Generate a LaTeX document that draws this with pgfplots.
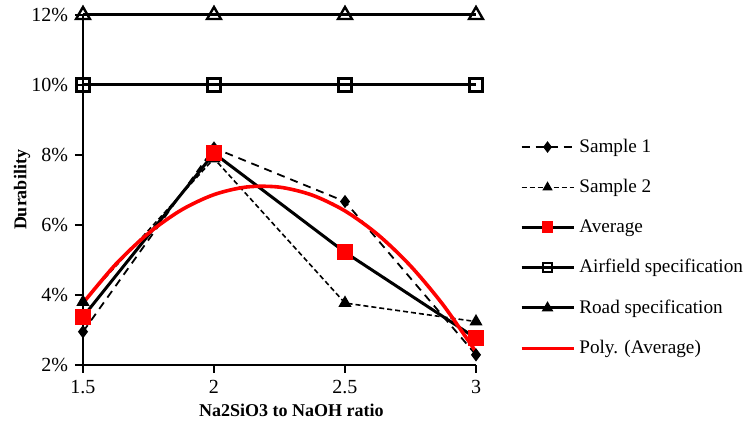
\documentclass[border=0pt]{standalone}
\usepackage{pgfplots}
\pgfplotsset{compat=1.18}
\usepackage{fontspec}
\setmainfont{Liberation Serif}

\begin{document}
\begin{tikzpicture}
\begin{axis}[
    name=ax,
    at={(0,0)}, anchor=south west,
    scale only axis,
    width=196.5pt, height=175pt,
    xmin=1.5, xmax=3,
    ymin=2, ymax=12,
    xtick={1.5,2,2.5,3},
    xticklabels={1.5,2,2.5,3},
    ytick={2,4,6,8,10,12},
    yticklabel={\pgfmathprintnumber{\tick}\%},
    /pgf/number format/assume math mode=true,
    axis x line*=bottom, axis y line*=left,
    axis line style={line width=1pt},
    tick style={line width=1pt, black},
    tick align=outside,
    major tick length=4pt,
    clip=false,
    ticklabel style={font=\fontsize{10}{12}\selectfont},
    xlabel={Na2SiO3 to NaOH ratio},
    ylabel={Durability},
    xlabel style={font=\fontsize{9}{11}\selectfont\bfseries, at={(axis description cs:0.53,-0.13)}, anchor=center},
    ylabel style={font=\fontsize{9}{11}\selectfont\bfseries, at={(axis description cs:-0.155,0.5)}, anchor=center},
    legend style={draw=none, fill=none, at={(axis description cs:1.095,0.67)}, anchor=north west,
        font=\fontsize{9.6}{11.5}\selectfont, row sep=8pt, cells={anchor=west}},
    legend image code/.code={\draw[mark repeat=2,mark phase=2,#1] plot coordinates {(0pt,0pt) (13pt,0pt) (26pt,0pt)};},
    legend image post style={mark size=2.2pt},
]
\addplot[black, line width=0.9pt, dash pattern=on 4pt off 3pt, mark=diamond*, mark size=2.6pt, mark options={solid}]
    coordinates {(1.5,2.95) (2,8.2) (2.5,6.67) (3,2.29)};
\addlegendentry{Sample 1}
\addplot[black, line width=0.8pt, dash pattern=on 2.5pt off 1.5pt, mark=triangle*, mark size=3pt, mark options={solid}]
    coordinates {(1.5,3.8) (2,7.9) (2.5,3.77) (3,3.24)};
\addlegendentry{Sample 2}
\addplot[black, line width=1.5pt, mark=square*, mark size=3.3pt, mark options={solid, red, fill=red, draw=red}]
    coordinates {(1.5,3.375) (2,8.05) (2.5,5.22) (3,2.765)};
\addlegendentry{Average}
\addplot[black, line width=1.5pt, mark=square, mark size=3.2pt, mark options={solid, fill=white, line width=1.2pt}]
    coordinates {(1.5,10) (2,10) (2.5,10) (3,10)};
\addlegendentry{Airfield specification}
\addplot[black, line width=1.5pt, mark=triangle, mark size=4pt, mark options={solid, fill=white, line width=1.2pt}]
    coordinates {(1.5,12) (2,12) (2.5,12) (3,12)};
\addlegendentry{Road specification}
\addplot[red, line width=1.8pt, smooth, no marks]
    coordinates {(1.5,3.769) (1.625,4.878) (1.75,5.764) (1.875,6.427) (2,6.868) (2.125,7.086) (2.25,7.081)
                 (2.375,6.853) (2.5,6.402) (2.625,5.728) (2.75,4.832) (2.875,3.713) (3,2.371)};
\addlegendentry{Poly. (Average)}
\end{axis}
\pgfresetboundingbox
\path (-41.5pt,-34pt) rectangle (333.5pt,182.5pt);
\end{tikzpicture}
\end{document}
